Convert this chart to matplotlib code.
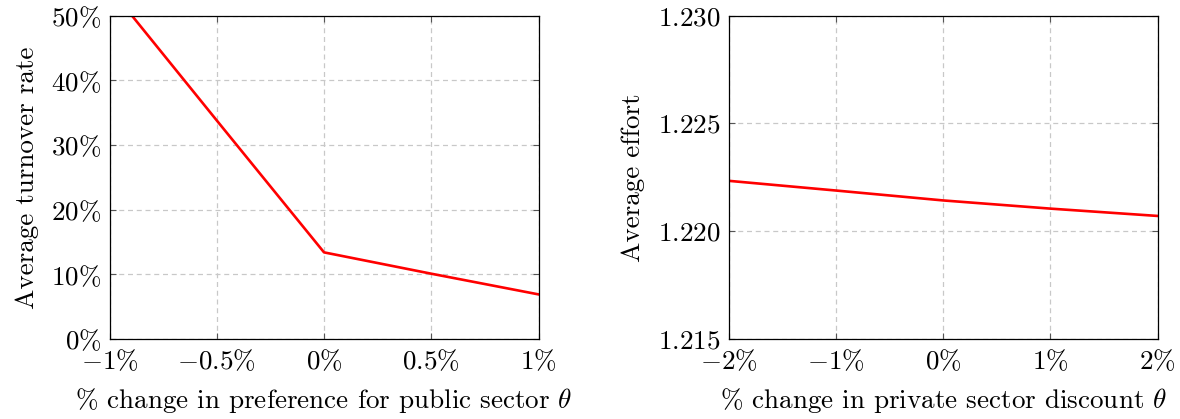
import matplotlib
matplotlib.use("Agg")
import matplotlib.pyplot as plt
from matplotlib.ticker import FixedLocator, FixedFormatter

plt.rcParams['font.family'] = 'cmr10'
plt.rcParams['mathtext.fontset'] = 'cm'
plt.rcParams['axes.formatter.use_mathtext'] = True

# Left panel data (% change in preference, turnover rate %)
pref_change = [-1.0, -0.5, 0.0, 0.5, 1.0]
turnover = [54.3, 33.8, 13.4, 10.1, 6.9]
left_xticks = [-1, -0.5, 0, 0.5, 1]
left_xticklabels = [r'$-1\%$', r'$-0.5\%$', r'$0\%$', r'$0.5\%$', r'$1\%$']
left_yticks = [0, 10, 20, 30, 40, 50]
left_yticklabels = [r'$0\%$', r'$10\%$', r'$20\%$', r'$30\%$', r'$40\%$', r'$50\%$']

# Right panel data (% change in discount, average effort)
disc_change = [-2, -1, 0, 1, 2]
effort = [1.22234, 1.22189, 1.22143, 1.22105, 1.22071]
right_xticks = [-2, -1, 0, 1, 2]
right_xticklabels = [r'$-2\%$', r'$-1\%$', r'$0\%$', r'$1\%$', r'$2\%$']
right_yticks = [1.215, 1.220, 1.225, 1.230]
right_yticklabels = [r'$1.215$', r'$1.220$', r'$1.225$', r'$1.230$']

FS = 19.5

fig = plt.figure(figsize=(11.8, 4.19), dpi=100)
ax1 = fig.add_axes([0.0928, 0.1909, 0.3636, 0.7716])
ax2 = fig.add_axes([0.6174, 0.1909, 0.3636, 0.7716])

def style(ax, xticks, xlabels, yticks, ylabels):
    ax.xaxis.set_major_locator(FixedLocator(xticks))
    ax.xaxis.set_major_formatter(FixedFormatter(xlabels))
    ax.yaxis.set_major_locator(FixedLocator(yticks))
    ax.yaxis.set_major_formatter(FixedFormatter(ylabels))
    ax.grid(True, color='#c8c8c8', linestyle=(0, (4, 3)), linewidth=0.9)
    ax.set_axisbelow(True)
    ax.tick_params(direction='in', length=4, width=0.8, color='#555555',
                   top=True, right=True, labelsize=FS)
    ax.tick_params(axis='x', pad=7)
    ax.tick_params(axis='y', pad=6)
    for s in ax.spines.values():
        s.set_linewidth(0.9)
        s.set_color('black')

ax1.plot(pref_change, turnover, color='red', linewidth=1.9)
ax1.set_xlim(-1, 1)
ax1.set_ylim(0, 50)
style(ax1, left_xticks, left_xticklabels, left_yticks, left_yticklabels)
ax1.set_xlabel(r'% change in preference for public sector $\theta$', fontsize=FS, labelpad=8)
ax1.set_ylabel('Average turnover rate', fontsize=FS, labelpad=9)

ax2.plot(disc_change, effort, color='red', linewidth=1.9)
ax2.set_xlim(-2, 2)
ax2.set_ylim(1.215, 1.230)
style(ax2, right_xticks, right_xticklabels, right_yticks, right_yticklabels)
ax2.set_xlabel(r'% change in private sector discount $\theta$', fontsize=FS, labelpad=8)
ax2.set_ylabel('Average effort', fontsize=FS, labelpad=9)

fig.savefig('out.png', dpi=100)
